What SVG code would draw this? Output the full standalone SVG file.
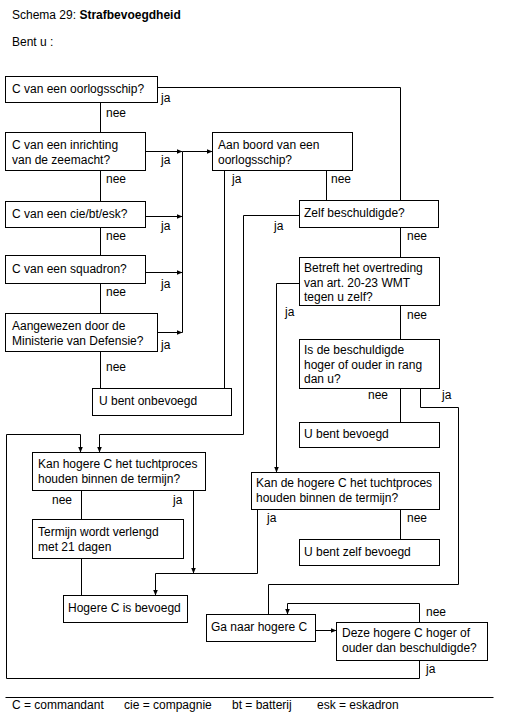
<svg xmlns="http://www.w3.org/2000/svg" width="512" height="718" viewBox="0 0 512 718">
<defs>
<marker id="ah" markerWidth="6" markerHeight="6" refX="6" refY="3" orient="auto" markerUnits="userSpaceOnUse">
<path d="M0,0.5 L6,3 L0,5.5 z" fill="#000"/>
</marker>
<style>
text{font-family:"Liberation Sans",Arial,sans-serif;font-size:12px;fill:#000}
.b{font-weight:bold}
rect{fill:#fff;stroke:#000;stroke-width:1}
.c path{fill:none;stroke:#000;stroke-width:1}
.a{marker-end:url(#ah)}
</style>
</defs>
<rect x="0" y="0" width="512" height="718" style="stroke:none"/>
<text x="12" y="19">Schema 29: <tspan class="b">Strafbevoegdheid</tspan></text>
<text x="12" y="46">Bent u :</text>

<g class="c" id="connectors" transform="translate(0.5,0.5)">
<path d="M157,87 H400 V200"/>
<path d="M100,102 V132"/>
<path d="M100,170 V201"/>
<path d="M100,227 V255"/>
<path d="M100,283 V313"/>
<path d="M100,351 V388"/>
<path class="a" d="M145,151 H182"/>
<path class="a" d="M182,151 H212"/>
<path class="a" d="M145,216 H182"/>
<path class="a" d="M145,272 H182"/>
<path class="a" d="M157,332 H182"/>
<path d="M182,151 V332"/>
<path d="M224,170 V388"/>
<path d="M326,170 V200"/>
<path class="a" d="M299,215 H243 V434 H99 V452"/>
<path d="M400,227 V257"/>
<path class="a" d="M299,283 H276 V472"/>
<path d="M400,305 V339"/>
<path d="M400,388 V422"/>
<path d="M420,388 V407 H458 V584 H268 V614"/>
<path d="M81,490 V519"/>
<path class="a" d="M193,490 V573"/>
<path d="M81,558 V595"/>
<path class="a" d="M257,509 V573 H155 V595"/>
<path d="M400,509 V539"/>
<path class="a" d="M315,630 H336"/>
<path class="a" d="M419,622 V603 H287 V614"/>
<path class="a" d="M419,660 V678 H6 V434 H80 V452"/>
<path d="M5,697 H493"/>
</g>

<g id="labels">
<text x="161" y="102">ja</text>
<text x="106" y="117">nee</text>
<text x="161" y="164">ja</text>
<text x="106" y="183">nee</text>
<text x="161" y="230">ja</text>
<text x="106" y="240">nee</text>
<text x="161" y="288">ja</text>
<text x="106" y="296">nee</text>
<text x="161" y="349">ja</text>
<text x="106" y="371">nee</text>
<text x="232" y="183">ja</text>
<text x="331" y="183">nee</text>
<text x="274" y="230">ja</text>
<text x="407" y="240">nee</text>
<text x="285" y="316">ja</text>
<text x="407" y="319">nee</text>
<text x="368" y="399">nee</text>
<text x="442" y="399">ja</text>
<text x="52" y="504">nee</text>
<text x="173" y="504">ja</text>
<text x="267" y="522">ja</text>
<text x="407" y="522">nee</text>
<text x="426" y="616">nee</text>
<text x="426" y="673">ja</text>
</g>

<g transform="translate(0.5,0.5)">
<g id="n1"><rect x="5" y="76" width="152" height="26"/><text x="11.5" y="92">C van een oorlogsschip?</text></g>
<g id="n2"><rect x="5" y="132" width="140" height="38"/><text x="11.5" y="148">C van een inrichting</text><text x="11.5" y="163">van de zeemacht?</text></g>
<g id="n3"><rect x="5" y="201" width="140" height="26"/><text x="11.5" y="217">C van een cie/bt/esk?</text></g>
<g id="n4"><rect x="5" y="255" width="140" height="28"/><text x="11.5" y="272">C van een squadron?</text></g>
<g id="n5"><rect x="5" y="313" width="152" height="38"/><text x="11.5" y="329">Aangewezen door de</text><text x="11.5" y="344">Ministerie van Defensie?</text></g>
<g id="n6"><rect x="92" y="388" width="139" height="27"/><text x="98.5" y="404">U bent onbevoegd</text></g>
<g id="n7"><rect x="212" y="132" width="140" height="38"/><text x="217.5" y="148">Aan boord van een</text><text x="217.5" y="163">oorlogsschip?</text></g>
<g id="n8"><rect x="299" y="200" width="139" height="27"/><text x="303.5" y="216">Zelf beschuldigde?</text></g>
<g id="n9"><rect x="299" y="257" width="140" height="48"/><text x="303.5" y="271">Betreft het overtreding</text><text x="303.5" y="286">van art. 20-23 WMT</text><text x="303.5" y="300">tegen u zelf?</text></g>
<g id="n10"><rect x="299" y="339" width="140" height="49"/><text x="303.5" y="353">Is de beschuldigde</text><text x="303.5" y="368">hoger of ouder in rang</text><text x="303.5" y="382">dan u?</text></g>
<g id="n11"><rect x="299" y="422" width="140" height="25"/><text x="303.5" y="437">U bent bevoegd</text></g>
<g id="n12"><rect x="32" y="452" width="173" height="38"/><text x="37.5" y="467">Kan hogere C het tuchtproces</text><text x="37.5" y="482">houden binnen de termijn?</text></g>
<g id="n13"><rect x="32" y="519" width="151" height="39"/><text x="37.5" y="535">Termijn wordt verlengd</text><text x="37.5" y="550">met 21 dagen</text></g>
<g id="n14"><rect x="251" y="472" width="188" height="37"/><text x="255.5" y="486">Kan de hogere C het tuchtproces</text><text x="255.5" y="501">houden binnen de termijn?</text></g>
<g id="n15"><rect x="299" y="539" width="140" height="26"/><text x="303.5" y="555">U bent zelf bevoegd</text></g>
<g id="n16"><rect x="63" y="595" width="124" height="27"/><text x="67.5" y="611">Hogere C is bevoegd</text></g>
<g id="n17"><rect x="206" y="614" width="109" height="27"/><text x="210.5" y="630">Ga naar hogere C</text></g>
<g id="n18"><rect x="336" y="622" width="151" height="38"/><text x="341.5" y="636">Deze hogere C hoger of</text><text x="341.5" y="651">ouder dan beschuldigde?</text></g>
</g>

<g id="legend">
<text x="12" y="709">C = commandant</text>
<text x="124" y="709">cie = compagnie</text>
<text x="232" y="709">bt = batterij</text>
<text x="317" y="709">esk = eskadron</text>
</g>
</svg>
